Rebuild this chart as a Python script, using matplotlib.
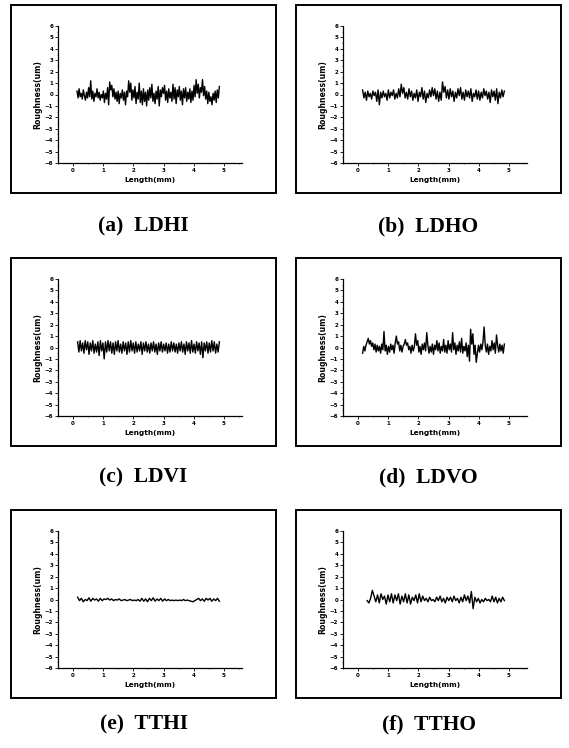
import numpy as np
import matplotlib.pyplot as plt
from matplotlib.patches import Rectangle

ldhi = [0.3, -0.3, 0.5, -0.2, 0.1, -0.4, 0.4, -0.1, -0.5, 0.2, -0.3, 0.6, -0.2, 1.2, -0.4, 0.3, -0.6, 0.1, -0.2, 0.5,
        -0.3, 0.2, -0.5, 0.0, -0.3, 0.3, -0.7, 0.1, -0.4, 0.6, -0.9, 1.1, 0.4, 0.8, -0.2, 0.5, -0.4, 0.2, -0.6, 0.3,
        -0.8, 0.1, -0.3, 0.4, -0.5, 0.2, -0.9, 0.3, -0.2, 1.2, 0.2, 1.0, -0.5, 0.4, -0.3, 0.7, -0.8, 0.2, -0.4, 1.0,
        -0.7, 0.3, -0.9, 0.5, -0.6, 0.2, -1.0, 0.4, -0.5, 0.6, -0.3, 0.9, -0.6, 0.1, -0.8, 0.3, -0.4, 0.7, -1.0, 0.4,
        -0.2, 0.6, 0.1, 0.8, -0.5, 0.3, -0.7, 0.5, -0.3, 0.2, -0.6, 0.9, -0.4, 0.6, -0.8, 0.4, -0.2, 0.7, -0.5, 0.3,
        -0.9, 0.5, -0.3, 0.6, -0.6, 0.2, -0.4, 0.5, -0.7, 0.3, -0.5, 0.8, -0.2, 1.3, 0.1, 0.9, -0.3, 0.6, 0.2, 1.3,
        -0.1, 0.7, -0.4, 0.3, -0.8, 0.2, -0.6, -0.2, -0.9, 0.1, -0.5, 0.3, -0.7, 0.4, -0.3, 0.7]
ldho = [0.4, -0.3, 0.2, -0.5, 0.3, -0.2, 0.1, -0.4, 0.3, -0.1, 0.2, -0.6, 0.4, -0.9, 0.2, -0.3, 0.3, -0.2, 0.1, -0.5,
        0.4, -0.3, 0.2, -0.1, 0.4, -0.4, 0.1, -0.3, 0.5, -0.2, 0.9, 0.1, 0.6, -0.3, 0.2, -0.4, 0.5, -0.2, 0.3, -0.5,
        0.1, -0.3, 0.4, -0.6, 0.2, -0.2, 0.6, -0.4, 0.3, -0.7, 0.1, -0.3, 0.4, -0.2, 0.6, -0.1, 0.5, -0.4, 0.3, -0.6,
        0.2, -0.5, 1.1, 0.2, 0.7, -0.3, 0.4, -0.4, 0.5, -0.2, 0.3, -0.6, 0.2, -0.3, 0.5, -0.1, 0.6, -0.4, 0.2, -0.5,
        0.4, -0.2, 0.3, -0.3, 0.5, -0.6, 0.1, -0.2, 0.4, -0.4, 0.3, -0.5, 0.2, -0.3, 0.5, -0.1, 0.3, -0.4, 0.2, -0.7,
        0.4, -0.2, 0.3, -0.5, 0.5, -0.8, 0.2, -0.3, 0.4, -0.2, 0.3]
ldvi = [0.5, -0.4, 0.6, -0.3, 0.4, -0.5, 0.6, -0.2, 0.5, -0.6, 0.4, -0.3, 0.6, -0.5, 0.3, -0.4, 0.5, -0.7, 0.6, -0.3,
        0.4, -1.0, 0.5, -0.4, 0.6, -0.3, 0.5, -0.5, 0.4, -0.6, 0.5, -0.3, 0.6, -0.4, 0.3, -0.5, 0.5, -0.3, 0.4, -0.6,
        0.5, -0.4, 0.6, -0.3, 0.4, -0.5, 0.5, -0.4, 0.3, -0.3, 0.5, -0.6, 0.4, -0.3, 0.5, -0.4, 0.3, -0.5, 0.4, -0.3,
        0.5, -0.4, 0.3, -0.6, 0.4, -0.3, 0.5, -0.4, 0.3, -0.3, 0.4, -0.5, 0.3, -0.4, 0.5, -0.3, 0.4, -0.4, 0.3, -0.5,
        0.4, -0.3, 0.5, -0.4, 0.3, -0.6, 0.5, -0.3, 0.4, -0.5, 0.6, -0.4, 0.3, -0.5, 0.5, -0.3, 0.4, -0.6, 0.5, -0.9,
        0.4, -0.3, 0.5, -0.5, 0.4, -0.4, 0.6, -0.3, 0.5, -0.5, 0.3, -0.4, 0.5]
ldvo = [-0.5, 0.1, -0.3, 0.2, 0.5, 0.8, 0.3, 0.6, 0.1, 0.4, -0.2, 0.3, -0.4, 0.2, -0.3, 0.1, -0.5, 0.3, -0.2, 1.4,
        -0.3, 0.2, -0.6, 0.1, -0.4, 0.3, -0.2, 0.2, -0.5, 0.4, 1.0, 0.3, 0.5, -0.3, 0.2, -0.4, 0.1, 0.3, 0.7, 0.2,
        0.4, -0.2, 0.1, -0.5, 0.2, -0.3, 0.1, 1.2, 0.2, 0.6, -0.4, 0.1, -0.6, 0.3, -0.2, 0.4, -0.3, 1.3, 0.2, -0.5,
        0.1, -0.4, 0.3, -0.6, 0.2, -0.2, 0.6, -0.3, 0.4, -0.5, 0.1, -0.3, 0.7, -0.4, 0.2, -0.5, 0.6, -0.2, 0.3, -0.4,
        1.3, -0.2, 0.4, -0.6, 0.2, -0.3, 0.5, -0.4, 0.8, -0.5, 0.1, -0.3, 0.4, -0.8, 0.2, -1.2, 1.6, 0.3, 1.2, -0.6,
        0.2, -1.3, -0.5, 0.2, -0.4, 0.3, -0.2, 0.5, 1.8, 0.2, -0.4, 0.3, -0.6, 0.1, -0.3, 0.6, -0.2, 0.4, -0.5, 1.1,
        0.2, -0.4, 0.3, -0.3, 0.2, -0.5, 0.3]
tthi = [0.2, -0.1, 0.1, -0.2, 0.0, -0.1, 0.15, -0.15, 0.1, -0.05, 0.05, -0.15, 0.1, -0.1, 0.05, 0.0, 0.1, -0.05, 0.05, -0.1,
        0.0, -0.05, 0.05, -0.1, -0.05, 0.0, -0.1, -0.05, 0.0, -0.1, -0.05, -0.1, 0.0, -0.15, 0.1, -0.15, 0.05, -0.2, 0.1, -0.1,
        0.15, -0.15, 0.05, -0.1, 0.1, -0.15, 0.05, -0.1, 0.0, -0.1, -0.05, -0.1, -0.05, -0.1, -0.05, -0.1, 0.0, -0.1, -0.05, -0.1,
        -0.15, -0.2, -0.1, 0.0, 0.1, -0.1, 0.05, -0.15, 0.1, -0.05, 0.1, -0.15, 0.05, -0.1, 0.1, -0.15]
ttho = [-0.1, -0.3, 0.1, 0.8, 0.3, -0.2, 0.4, -0.3, 0.5, 0.0, 0.3, -0.4, 0.4, -0.2, 0.5, -0.3, 0.4, -0.1, 0.5, -0.4,
        0.3, -0.2, 0.5, -0.3, 0.4, -0.4, 0.2, -0.1, 0.4, -0.3, 0.5, -0.2, 0.3, -0.1, 0.1, -0.2, 0.2, -0.1, 0.0, -0.2,
        0.2, -0.1, 0.3, -0.2, 0.1, -0.3, 0.2, -0.1, 0.2, -0.2, 0.3, -0.1, 0.1, -0.3, 0.2, -0.2, 0.4, -0.1, 0.3, -0.3,
        0.7, -0.8, 0.2, -0.2, 0.1, -0.3, 0.0, -0.2, 0.1, -0.1, 0.0, -0.2, 0.3, -0.2, 0.2, -0.3, 0.1, -0.2, 0.2, -0.1]

profiles = [ldhi, ldho, ldvi, ldvo, tthi, ttho]
starts = [0.13, 0.15, 0.15, 0.15, 0.15, 0.3]
ends = [4.85, 4.85, 4.85, 4.85, 4.85, 4.85]
titles = ['(a)  LDHI', '(b)  LDHO', '(c)  LDVI', '(d)  LDVO', '(e)  TTHI', '(f)  TTHO']

W, H = 569, 748
fig = plt.figure(figsize=(W / 100, H / 100), dpi=100)

box_left = [11, 296]
box_top = [5, 258, 510]
title_y = [226, 477, 724]
box_w, box_h = 265, 188

for i in range(6):
    r, c = divmod(i, 2)
    bx, by = box_left[c], box_top[r]
    # frame around each panel
    fig.patches.append(Rectangle((bx / W, 1 - (by + box_h) / H), box_w / W, box_h / H,
                                 transform=fig.transFigure, fill=False, lw=1.4, ec='black'))
    ax = fig.add_axes([(bx + 47) / W, 1 - (by + 158) / H, 184 / W, 137 / H])
    y = profiles[i]
    x = np.linspace(starts[i], ends[i], len(y))
    ax.plot(x, y, color='black', lw=1.0)
    ax.set_xlim(-0.5, 5.6)
    ax.set_ylim(-6, 6)
    ax.set_xticks(range(6))
    ax.set_yticks(range(-6, 7))
    ax.set_xticks(np.arange(-0.5, 5.6, 0.5), minor=True)
    ax.set_yticks(np.arange(-6, 6.1, 0.5), minor=True)
    for s in ['top', 'right']:
        ax.spines[s].set_visible(False)
    for s in ['left', 'bottom']:
        ax.spines[s].set_linewidth(0.9)
    ax.tick_params(which='major', direction='out', length=2, width=0.6, labelsize=4, pad=1.5)
    ax.tick_params(which='minor', direction='out', length=1, width=0.4)
    for lab in ax.get_xticklabels() + ax.get_yticklabels():
        lab.set_fontweight('bold')
    ax.set_xlabel('Length(mm)', fontsize=5.3, fontweight='bold', labelpad=3)
    ax.set_ylabel('Roughness(um)', fontsize=5.6, fontweight='bold', labelpad=2)
    fig.text((bx + box_w / 2) / W, 1 - title_y[r] / H, titles[i], ha='center', va='center',
             fontsize=15.5, fontweight='bold', family='Liberation Serif')

fig.savefig('out.png', dpi=100)
